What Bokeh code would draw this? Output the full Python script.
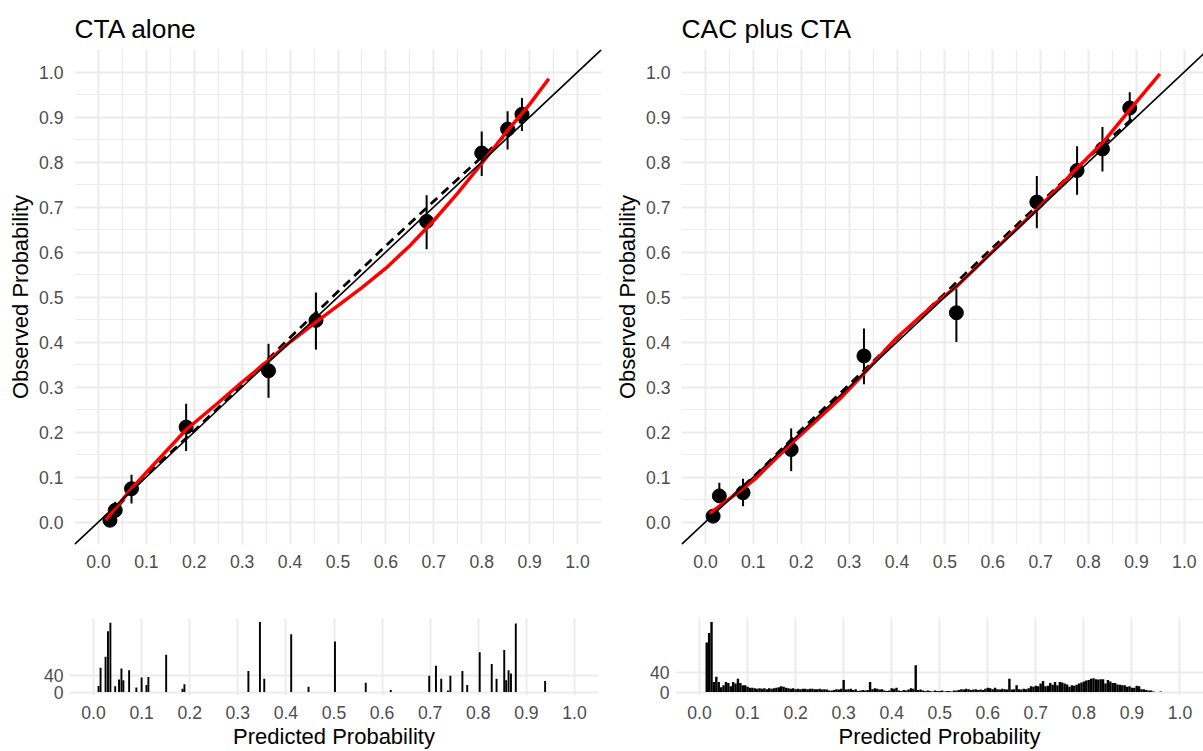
from bokeh.plotting import figure
from bokeh.models import Range1d, FixedTicker, Slope, PrintfTickFormatter
from bokeh.layouts import column, row
from bokeh.embed import file_html
from bokeh.resources import INLINE

# ---------------- data ----------------
TICKS = [0.0, 0.1, 0.2, 0.3, 0.4, 0.5, 0.6, 0.7, 0.8, 0.9, 1.0]
MINOR = [-0.05, 0.05, 0.15, 0.25, 0.35, 0.45, 0.55, 0.65, 0.75, 0.85, 0.95, 1.05]
HIST_YTICKS = [0, 40]

titles = ["CTA alone", "CAC plus CTA"]

# CTA alone: grouped observed vs predicted with 95% CI
cta_x = [0.024, 0.035, 0.069, 0.183, 0.355, 0.454, 0.685, 0.800, 0.854, 0.884]
cta_y = [0.004, 0.026, 0.074, 0.211, 0.336, 0.448, 0.668, 0.820, 0.873, 0.906]
cta_lo = [0.000, 0.010, 0.041, 0.158, 0.276, 0.383, 0.606, 0.769, 0.828, 0.869]
cta_hi = [0.012, 0.045, 0.105, 0.263, 0.396, 0.510, 0.726, 0.868, 0.913, 0.942]

cta_red_x = [0.015, 0.069, 0.100, 0.183, 0.250, 0.300, 0.355, 0.400, 0.454, 0.500,
             0.550, 0.600, 0.650, 0.700, 0.750, 0.800, 0.854, 0.900, 0.940]
cta_red_y = [0.004, 0.074, 0.110, 0.205, 0.265, 0.311, 0.359, 0.400, 0.444, 0.481,
             0.521, 0.564, 0.614, 0.670, 0.731, 0.797, 0.870, 0.928, 0.985]

cta_dash_x = [0.020, 0.100, 0.200, 0.300, 0.400, 0.500, 0.600, 0.700, 0.800, 0.885]
cta_dash_y = [0.010, 0.105, 0.203, 0.305, 0.410, 0.512, 0.614, 0.713, 0.811, 0.893]

# CAC plus CTA
cac_x = [0.016, 0.029, 0.0785, 0.179, 0.331, 0.524, 0.692, 0.776, 0.829, 0.886]
cac_y = [0.013, 0.058, 0.065, 0.161, 0.369, 0.465, 0.711, 0.781, 0.829, 0.920]
cac_lo = [0.005, 0.045, 0.035, 0.113, 0.306, 0.400, 0.653, 0.727, 0.779, 0.888]
cac_hi = [0.022, 0.087, 0.096, 0.208, 0.430, 0.519, 0.769, 0.835, 0.878, 0.955]

cac_red_x = [0.009, 0.0785, 0.102, 0.179, 0.281, 0.331, 0.400, 0.480, 0.524, 0.596,
             0.692, 0.776, 0.829, 0.886, 0.949]
cac_red_y = [0.019, 0.074, 0.094, 0.174, 0.274, 0.330, 0.410, 0.486, 0.523, 0.597,
             0.694, 0.786, 0.842, 0.916, 0.996]

cac_dash_x = [0.010, 0.100, 0.200, 0.300, 0.400, 0.500, 0.600, 0.700, 0.800, 0.890]
cac_dash_y = [0.013, 0.100, 0.205, 0.305, 0.408, 0.508, 0.610, 0.710, 0.810, 0.895]

# Histogram of predicted probabilities, CTA alone (bar centre, count)
cta_hist_x = [0.0104, 0.0146, 0.025, 0.030, 0.035, 0.045, 0.053, 0.058, 0.062, 0.074,
              0.089, 0.100, 0.110, 0.114, 0.151, 0.185, 0.189, 0.322, 0.346, 0.355,
              0.411, 0.447, 0.502, 0.566, 0.618, 0.698, 0.712, 0.723, 0.737, 0.742,
              0.767, 0.777, 0.803, 0.828, 0.838, 0.854, 0.858, 0.863, 0.868, 0.878,
              0.939]
cta_hist_n = [15, 60, 87, 150, 171, 14, 31, 58, 29, 54,
              11, 36, 17, 37, 92, 8, 19, 52, 173, 33,
              143, 13, 125, 23, 5, 40, 65, 33, 4, 40,
              52, 17, 98, 69, 33, 104, 29, 54, 46, 169,
              27]

# Histogram, CAC plus CTA: counts in bins of 0.005 starting at 0.0125
cac_hist_start = 0.0125
cac_hist_bw = 0.005
cac_hist_n = [
    104, 124, 147, 21, 32, 21, 10, 14, 21, 19,
    12, 21, 18, 28, 19, 14, 14, 11, 9, 9,
    8, 7, 8, 7, 8, 6, 8, 7, 8, 9,
    10, 12, 11, 9, 8, 7, 8, 6, 7, 6,
    7, 7, 6, 7, 7, 6, 6, 7, 5, 6,
    5, 3, 3, 4, 6, 5, 7, 25, 5, 6,
    7, 4, 6, 2, 3, 4, 3, 4, 21, 6,
    8, 7, 5, 6, 3, 2, 3, 8, 7, 9,
    3, 2, 4, 3, 5, 8, 7, 56, 4, 5,
    3, 2, 3, 2, 1, 3, 2, 2, 3, 1,
    2, 2, 1, 3, 3, 4, 6, 5, 7, 6,
    4, 5, 6, 4, 5, 4, 7, 9, 8, 6,
    9, 6, 5, 7, 6, 5, 28, 5, 6, 14,
    6, 5, 7, 6, 8, 12, 11, 13, 12, 18,
    23, 12, 13, 19, 15, 21, 14, 21, 20, 18,
    16, 11, 14, 13, 15, 18, 20, 22, 24, 25,
    28, 29, 27, 26, 27, 27, 18, 25, 22, 19,
    19, 16, 15, 14, 14, 11, 12, 9, 9, 13,
    12, 6, 6, 4, 3, 3, 1, 0, 0, 1,
]
cac_hist_x = [cac_hist_start + cac_hist_bw * (i + 0.5) for i in range(len(cac_hist_n))]

# ---------------- styling ----------------
FONT = "Liberation Sans"
GRID = "#EBEBEB"
TICK_COL = "#4D4D4D"
TOP_H = 600
BOT_H = 151
LEFT_W = 611
RIGHT_W = 592


def style_axes(p, xticks, xminor, yticks, yminor, ylabel_standoff, xlabel_standoff):
    p.outline_line_color = None
    p.background_fill_color = "white"
    p.border_fill_color = "white"
    p.xaxis.ticker = FixedTicker(ticks=xticks, minor_ticks=xminor)
    p.yaxis.ticker = FixedTicker(ticks=yticks, minor_ticks=yminor)
    for ax in (p.xaxis, p.yaxis):
        ax.axis_line_color = None
        ax.major_tick_line_color = None
        ax.minor_tick_line_color = None
        ax.major_tick_out = 0
        ax.major_tick_in = 0
        ax.minor_tick_out = 0
        ax.minor_tick_in = 0
        ax.major_label_text_font = FONT
        ax.major_label_text_font_size = "17.6px"
        ax.major_label_text_color = TICK_COL
        ax.axis_label_text_font = FONT
        ax.axis_label_text_font_size = "22px"
        ax.axis_label_text_font_style = "normal"
        ax.axis_label_text_color = "black"
    p.yaxis.major_label_standoff = ylabel_standoff
    p.xaxis.major_label_standoff = xlabel_standoff
    p.xgrid.grid_line_color = GRID
    p.ygrid.grid_line_color = GRID
    p.xgrid.grid_line_width = 2
    p.ygrid.grid_line_width = 2


def main_fig(title, width, x_end, mbl, mbr, xs, ys, lo, hi, rx, ry, dx, dy):
    p = figure(width=width, height=TOP_H, x_range=Range1d(-0.05, x_end),
               y_range=Range1d(-0.05, 1.05), output_backend="svg",
               toolbar_location=None, min_border_left=mbl, min_border_right=mbr,
               min_border_top=49, min_border_bottom=56, title=title)
    style_axes(p, TICKS, MINOR, TICKS, MINOR, 11, 10)
    p.xaxis.formatter = PrintfTickFormatter(format="%.1f")
    p.yaxis.formatter = PrintfTickFormatter(format="%.1f")
    p.xgrid.minor_grid_line_color = GRID
    p.ygrid.minor_grid_line_color = GRID
    p.xgrid.minor_grid_line_width = 1.2
    p.ygrid.minor_grid_line_width = 1.2
    p.yaxis.axis_label = "Observed Probability"
    p.yaxis.axis_label_standoff = 3
    p.title.text_font = FONT
    p.title.text_font_size = "26.4px"
    p.title.text_font_style = "normal"
    p.title.text_color = "black"
    p.title.align = "left"
    p.title.vertical_align = "top"
    p.title.standoff = 8
    p.add_layout(Slope(gradient=1, y_intercept=0, line_color="black", line_width=1.6))
    p.line(dx, dy, line_color="black", line_width=2.8, line_dash="9 6")
    p.segment(x0=xs, y0=lo, x1=xs, y1=hi, line_color="black", line_width=2)
    p.scatter(xs, ys, size=14, fill_color="black", line_color="black")
    p.line(rx, ry, line_color="#FF0000", line_width=3.5)
    return p


def hist_fig(width, x_end, mbl, mbr, hx, hn, bw):
    m = max(hn)
    p = figure(width=width, height=BOT_H, x_range=Range1d(-0.05, x_end),
               y_range=Range1d(-0.05 * m, 1.05 * m), output_backend="svg",
               toolbar_location=None, min_border_left=mbl, min_border_right=mbr,
               min_border_top=18, min_border_bottom=56)
    style_axes(p, TICKS, [], HIST_YTICKS, [], 6, 10)
    p.xaxis.formatter = PrintfTickFormatter(format="%.1f")
    p.xaxis.axis_label = "Predicted Probability"
    p.xaxis.axis_label_standoff = 2
    p.vbar(x=hx, top=hn, bottom=0, width=bw, fill_color="black", line_color=None)
    return p


p1 = main_fig(titles[0], LEFT_W, 1.05, 74, 10, cta_x, cta_y, cta_lo, cta_hi,
              cta_red_x, cta_red_y, cta_dash_x, cta_dash_y)
p2 = main_fig(titles[1], RIGHT_W, 1.04, 70, 0, cac_x, cac_y, cac_lo, cac_hi,
              cac_red_x, cac_red_y, cac_dash_x, cac_dash_y)
h1 = hist_fig(LEFT_W, 1.05, 69, 13, cta_hist_x, cta_hist_n, 0.004)
h2 = hist_fig(RIGHT_W, 1.049, 64, 0, cac_hist_x, cac_hist_n, cac_hist_bw)

p = column(row(p1, p2), row(h1, h2))
open("out.html", "w").write(file_html(p, INLINE))
